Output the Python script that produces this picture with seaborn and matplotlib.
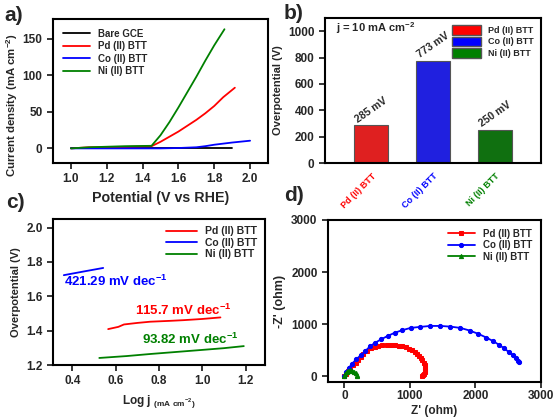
import numpy as np
import pandas as pd
import matplotlib
matplotlib.use("Agg")
import matplotlib.pyplot as plt
from matplotlib.patches import Patch
import seaborn as sns

sns.set_style("ticks")
plt.rcParams['font.family'] = ['Liberation Sans', 'DejaVu Sans']
plt.rcParams['font.weight'] = 'bold'
plt.rcParams['axes.labelweight'] = 'bold'
plt.rcParams['mathtext.fontset'] = 'custom'
plt.rcParams['mathtext.bf'] = 'Liberation Sans:bold'
plt.rcParams['mathtext.rm'] = 'Liberation Sans:bold'
plt.rcParams['mathtext.default'] = 'bf'

# a) LSV curves
bare_x = [1.0, 1.2, 1.4, 1.6, 1.8, 1.9]
bare_y = [0, 0, 0, 0, 0, 0]
pd_lsv_x = [1.0, 1.1, 1.3, 1.45, 1.5, 1.55, 1.6, 1.65, 1.7, 1.75, 1.8, 1.85, 1.915]
pd_lsv_y = [0, 1.5, 2, 3, 9, 16, 23, 31, 39, 48, 58, 70, 83]
co_lsv_x = [1.0, 1.2, 1.4, 1.5, 1.6, 1.7, 1.75, 1.8, 1.9, 2.0]
co_lsv_y = [0, 0, 0, 0, 0.5, 1.5, 3, 5, 8, 10.5]
ni_lsv_x = [1.0, 1.1, 1.3, 1.45, 1.5, 1.55, 1.6, 1.65, 1.7, 1.75, 1.8, 1.857]
ni_lsv_y = [0, 1.5, 3, 3.5, 18, 36, 56, 77, 98, 120, 141, 163]

# b) overpotential at 10 mA cm-2
catalysts = ['Pd (II) BTT', 'Co (II) BTT', 'Ni (II) BTT']
overpot = [285, 773, 250]
colors = ['#ff0000', '#0000ff', '#008000']

# c) Tafel
pd_taf_x = [0.565, 0.612, 0.638, 0.70, 0.759, 0.85, 0.913, 1.0, 1.084]
pd_taf_y = [1.409, 1.422, 1.436, 1.445, 1.452, 1.457, 1.461, 1.468, 1.477]
co_taf_x = [0.36, 0.45, 0.542]
co_taf_y = [1.723, 1.744, 1.765]
ni_taf_x = [0.524, 0.65, 0.759, 0.88, 0.991, 1.1, 1.192]
ni_taf_y = [1.241, 1.252, 1.264, 1.276, 1.287, 1.298, 1.31]
tafel_slopes = ['115.7', '421.29', '93.82']

# d) Nyquist
pd_z_re = [0, 25, 55, 90, 130, 170, 210, 250, 290, 340, 400, 460, 515, 580, 645, 705,
           770, 830, 885, 940, 990, 1035, 1075, 1110, 1140, 1170, 1190, 1210, 1225,
           1232, 1235, 1230, 1220, 1200, 1185]
pd_z_im = [0, 40, 90, 150, 205, 255, 300, 360, 430, 480, 530, 560, 580, 595, 605, 605,
           597, 585, 570, 550, 528, 500, 462, 425, 386, 345, 302, 255, 206,
           160, 110, 75, 45, 20, 5]
co_z_re = [0, 30, 70, 120, 180, 250, 320, 390, 470, 560, 660, 765, 880, 1010, 1160, 1310,
           1465, 1615, 1770, 1910, 2045, 2165, 2270, 2360, 2440, 2510, 2570, 2620, 2655, 2670]
co_z_im = [0, 80, 160, 240, 320, 400, 480, 570, 640, 705, 770, 830, 880, 925, 945, 963,
           963, 950, 925, 875, 810, 740, 670, 600, 530, 460, 400, 340, 290, 270]
ni_z_re = [0, 15, 35, 60, 90, 120, 150, 170, 185, 190]
ni_z_im = [0, 45, 85, 105, 112, 105, 85, 55, 25, 5]

panel_letters = ['a', 'b', 'c', 'd']

W, H = 557, 420
fig = plt.figure(figsize=(W / 100, H / 100), dpi=100)


def box(l, r, t, b):
    return fig.add_axes([l / W, (H - b) / H, (r - l) / W, (b - t) / H])


def style(ax, size=8.5):
    for s in ax.spines.values():
        s.set_visible(True)
        s.set_linewidth(1.5)
        s.set_color('black')
    ax.tick_params(width=1.3, length=4, labelsize=size, direction='out')
    for lab in ax.get_xticklabels() + ax.get_yticklabels():
        lab.set_fontweight('bold')


# ---- a)
ax1 = box(53, 268, 19, 163)
lsv = [('Bare GCE', bare_x, bare_y, 'black'), ('Pd (II) BTT', pd_lsv_x, pd_lsv_y, '#ff0000'),
       ('Co (II) BTT', co_lsv_x, co_lsv_y, '#0000ff'), ('Ni (II) BTT', ni_lsv_x, ni_lsv_y, '#008000')]
for name, x, y, c in lsv:
    sns.lineplot(x=x, y=y, ax=ax1, color=c, lw=1.3, label=name, sort=False)
ax1.set_xlim(0.9, 2.1)
ax1.set_ylim(-20, 177)
ax1.set_xticks([1.0, 1.2, 1.4, 1.6, 1.8, 2.0])
ax1.set_yticks([0, 50, 100, 150])
ax1.set_xlabel('Potential (V vs RHE)', fontsize=10.3)
ax1.set_ylabel('Current density (mA cm$^{-2}$)', fontsize=8.2)
ax1.yaxis.set_label_coords(-0.155, 0.40)
ax1.legend(loc='upper left', frameon=False, prop={'weight': 'bold', 'size': 7},
           handlelength=2.8, borderaxespad=0.6, labelspacing=0.25)
style(ax1)

# ---- b)
ax2 = box(325, 541, 18, 163)
dfb = pd.DataFrame({'cat': catalysts, 'eta': overpot})
sns.barplot(data=dfb, x='cat', y='eta', hue='cat', palette=colors, ax=ax2, width=0.55,
            edgecolor='#555555', linewidth=0.8, legend=False)
ax2.set_ylim(0, 1100)
ax2.set_yticks([0, 200, 400, 600, 800, 1000])
ax2.set_xlim(-0.75, 2.75)
ax2.set_xlabel('')
ax2.set_ylabel('Overpotential (V)', fontsize=8)
for i, v in enumerate(overpot):
    ax2.text(i, v + 8, f'{v} mV', rotation=35, ha='center', va='bottom', fontsize=7.5, fontweight='bold')
ax2.text(0.05, 0.9, 'j = 10 mA cm$^{-2}$', transform=ax2.transAxes, fontsize=8, fontweight='bold')
ax2.legend(handles=[Patch(facecolor=c, edgecolor='#555555', label=n) for n, c in zip(catalysts, colors)],
           loc='upper right', prop={'weight': 'bold', 'size': 6.5}, frameon=False,
           handlelength=3.2, handleheight=1.3, labelspacing=0.15, borderaxespad=0.4)
style(ax2)
ax2.tick_params(axis='x', length=0, pad=6)
ax2.set_xticks(range(3))
ax2.set_xticklabels(catalysts, rotation=45, ha='right', rotation_mode='anchor', fontsize=6.5)
for lab, c in zip(ax2.get_xticklabels(), colors):
    lab.set_color(c)
    lab.set_fontweight('bold')

# ---- c)
ax3 = box(53, 265, 219, 365)
taf = [('Pd (II) BTT', pd_taf_x, pd_taf_y, '#ff0000'), ('Co (II) BTT', co_taf_x, co_taf_y, '#0000ff'),
       ('Ni (II) BTT', ni_taf_x, ni_taf_y, '#008000')]
for name, x, y, c in taf:
    sns.lineplot(x=x, y=y, ax=ax3, color=c, lw=1.3, label=name, sort=False)
ax3.set_xlim(0.31, 1.29)
ax3.set_ylim(1.2, 2.05)
ax3.set_xticks([0.4, 0.6, 0.8, 1.0, 1.2])
ax3.set_yticks([1.2, 1.4, 1.6, 1.8, 2.0])
sup = '$^{-1}$'
ax3.text(0.36, 1.66, tafel_slopes[1] + ' mV dec' + sup, color='#0000ff', fontsize=9.5, fontweight='bold')
ax3.text(0.69, 1.49, tafel_slopes[0] + ' mV dec' + sup, color='#ff0000', fontsize=9.5, fontweight='bold')
ax3.text(0.72, 1.325, tafel_slopes[2] + ' mV dec' + sup, color='#008000', fontsize=9.5, fontweight='bold')
ax3.set_xlabel('Log j $_{(mA\\ cm^{-2})}$', fontsize=8.5)
ax3.set_ylabel('Overpotential (V)', fontsize=8)
ax3.legend(loc='upper right', frameon=False, prop={'weight': 'bold', 'size': 7.5},
           handlelength=3.0, labelspacing=0.15, borderaxespad=0.3)
style(ax3)

# ---- d)
ax4 = box(328, 541, 220, 382)
nyq = [('Pd (II) BTT', pd_z_re, pd_z_im, '#ff0000', 's', 2.8),
       ('Co (II) BTT', co_z_re, co_z_im, '#0000ff', 'o', 3.0),
       ('Ni (II) BTT', ni_z_re, ni_z_im, '#008000', '^', 3.0)]
for name, x, y, c, m, ms in nyq:
    sns.lineplot(x=x, y=y, ax=ax4, color=c, lw=1.3, marker=m, markersize=ms,
                 markeredgecolor=c, label=name, sort=False)
ax4.set_xlim(-250, 3000)
ax4.set_ylim(-115, 3000)
ax4.set_xticks([0, 1000, 2000, 3000])
ax4.set_yticks([0, 1000, 2000, 3000])
ax4.set_xlabel("Z' (ohm)", fontsize=8.5, labelpad=2)
ax4.set_ylabel("-Z' (ohm)", fontsize=9)
ax4.legend(loc='upper right', frameon=False, prop={'weight': 'bold', 'size': 7},
           handlelength=2.8, labelspacing=0.15, borderaxespad=0.5)
style(ax4)
ax4.tick_params(axis='x', pad=2)

# panel letters
letter_pos = [(4, 6), (284, 4), (6, 193), (284, 186)]
for letter, (px, py) in zip(panel_letters, letter_pos):
    fig.text(px / W, 1 - py / H, letter + chr(41), fontsize=15, fontweight='bold', va='top', ha='left')

fig.savefig('out.png', dpi=100)
